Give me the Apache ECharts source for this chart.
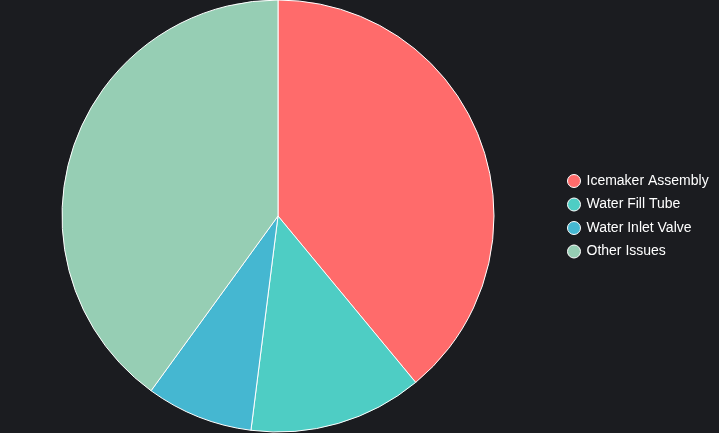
<!DOCTYPE html>
<html><head><meta charset="utf-8">
<script src="https://cdn.jsdelivr.net/npm/echarts@6/dist/echarts.min.js"></script>
<style>html,body{margin:0;padding:0;background:#1b1c20;}#c{width:719px;height:433px;}</style>
</head><body><div id="c"></div>
<script>
const categories = ["Icemaker Assembly", "Water Fill Tube", "Water Inlet Valve", "Other Issues"];
const values = [39, 13, 8, 40];
const colors = ["#FF6B6B", "#4ECDC4", "#45B7D1", "#96CEB4"];
const chart = echarts.init(document.getElementById('c'));
chart.setOption({
  backgroundColor: '#1b1c20',
  animation: false,
  legend: {
    orient: 'vertical', left: 562, top: 169,
    icon: 'circle', itemWidth: 13, itemHeight: 13, itemGap: 9.5,
    itemStyle: { borderColor: '#ffffff', borderWidth: 1 },
    textStyle: { color: '#ffffff', fontSize: 14, fontFamily: 'Liberation Sans, Arial, sans-serif', padding: [0,0,0,1] },
    data: categories
  },
  series: [{
    type: 'pie', center: [278, 216], radius: 216, startAngle: 90, clockwise: true,
    label: { show: false }, labelLine: { show: false },
    itemStyle: { borderColor: '#ffffff', borderWidth: 1 },
    emphasis: { disabled: true },
    data: categories.map((n, i) => ({ name: n, value: values[i], itemStyle: { color: colors[i] } }))
  }]
});
</script></body></html>
